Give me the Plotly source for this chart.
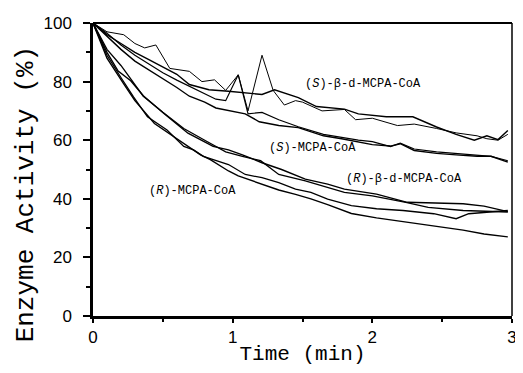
import plotly.graph_objects as go

# (S)-beta-d-MCPA-CoA
t_sbd_a = [0, 0.1, 0.22, 0.3, 0.37, 0.45, 0.55, 0.62, 0.69, 0.78, 0.87, 0.95, 1.04, 1.11, 1.21, 1.29, 1.37, 1.45, 1.5, 1.64, 1.8, 1.88, 2.0, 2.18, 2.3, 2.46, 2.6, 2.75, 2.82, 2.9, 2.97]
v_sbd_a = [100, 97, 96, 93, 91.5, 92.5, 84.5, 84, 83.5, 80, 80.6, 77, 82.3, 70, 89, 77, 72, 73.5, 73, 70, 70.5, 67, 67.5, 65, 65.5, 64, 62.5, 61.5, 60.5, 60, 62]
t_sbd_b = [0, 0.1, 0.2, 0.3, 0.4, 0.5, 0.6, 0.69, 0.83, 0.97, 1.13, 1.21, 1.3, 1.47, 1.6, 1.7, 1.8, 1.9, 2.0, 2.1, 2.18, 2.29, 2.46, 2.6, 2.73, 2.82, 2.9, 2.97]
v_sbd_b = [100, 96, 93, 90, 87.5, 85, 82.5, 79, 77.2, 76.7, 75.8, 75.6, 77.2, 74.5, 71.5, 71, 70.6, 69, 68.5, 68, 68, 68, 64.5, 62, 60, 61.5, 60.2, 63.3]

# (S)-MCPA-CoA
t_s_a = [0, 0.1, 0.2, 0.3, 0.4, 0.5, 0.6, 0.69, 0.8, 0.88, 0.95, 1.04, 1.11, 1.21, 1.33, 1.47, 1.65, 1.78, 1.9, 2.0, 2.13, 2.2, 2.3, 2.46, 2.6, 2.75, 2.85, 2.97]
v_s_a = [100, 96.5, 92.5, 89, 86, 83, 80.5, 78.5, 76, 74, 73.5, 82.3, 69, 69.5, 67, 64.6, 62, 61, 60, 59.5, 57.8, 59, 57, 56, 55.5, 55, 54.5, 53]
t_s_b = [0, 0.1, 0.2, 0.3, 0.4, 0.5, 0.6, 0.69, 0.8, 0.88, 1.0, 1.09, 1.19, 1.33, 1.47, 1.65, 1.78, 1.9, 2.0, 2.13, 2.2, 2.3, 2.46, 2.6, 2.75, 2.85, 2.97]
v_s_b = [100, 95.5, 91, 87, 84, 81, 78, 75, 73, 71, 70, 69, 66.3, 65, 64.3, 61.5, 60.5, 59.5, 58.5, 58, 58.8, 56.5, 55.5, 55, 54.5, 54.5, 52.5]

# (R)-beta-d-MCPA-CoA
t_rbd_a = [0, 0.1, 0.18, 0.27, 0.36, 0.51, 0.68, 0.77, 0.86, 0.97, 1.07, 1.21, 1.35, 1.52, 1.68, 1.8, 2.03, 2.25, 2.45, 2.65, 2.8, 2.97]
v_rbd_a = [100, 90, 83.6, 80.3, 75.2, 69, 62.4, 60.1, 57.9, 56.7, 55, 52.3, 50, 46.7, 45, 43.3, 41.6, 38.8, 38.5, 38.3, 37.5, 35.6]
t_rbd_b = [0, 0.1, 0.2, 0.3, 0.36, 0.5, 0.65, 0.8, 0.95, 1.07, 1.2, 1.33, 1.52, 1.8, 2.0, 2.24, 2.4, 2.65, 2.8, 2.97]
v_rbd_b = [100, 91, 85.5, 79, 75, 69.5, 64, 60, 56, 54.5, 53, 48.3, 46.1, 42.2, 41, 38.8, 37.1, 36, 35.8, 35.5]

# (R)-MCPA-CoA
t_r_a = [0, 0.1, 0.2, 0.29, 0.39, 0.53, 0.65, 0.72, 0.79, 0.86, 0.97, 1.09, 1.21, 1.33, 1.45, 1.56, 1.68, 1.85, 2.03, 2.22, 2.44, 2.6, 2.69, 2.97]
v_r_a = [100, 89, 81.4, 74.8, 68, 63.5, 57.9, 56.7, 54.5, 53.4, 51.7, 48.3, 47.2, 45.5, 43.3, 42.2, 39.9, 37.7, 36.6, 36, 34.9, 33.2, 34.9, 36]
t_r_b = [0, 0.1, 0.22, 0.3, 0.44, 0.58, 0.68, 0.77, 0.84, 0.97, 1.04, 1.21, 1.33, 1.45, 1.56, 1.68, 1.85, 2.03, 2.25, 2.45, 2.65, 2.8, 2.97]
v_r_b = [100, 88, 79.2, 73.5, 65.7, 61.2, 57.9, 55, 53.4, 49.5, 47.8, 45, 43, 41.5, 40, 38, 35, 33.5, 32, 30.5, 29.3, 28, 27]

labels = ["(<i>S</i>)-β-d-MCPA-CoA", "(<i>S</i>)-MCPA-CoA", "(<i>R</i>)-β-d-MCPA-CoA", "(<i>R</i>)-MCPA-CoA"]
label_x = [1.93, 1.57, 2.23, 0.71]
label_y = [79.2, 57.5, 46.7, 42.8]

x_ticks = [0, 1, 2, 3]
y_ticks = [0, 20, 40, 60, 80, 100]

series = [
    (t_sbd_a, v_sbd_a, 1.0), (t_sbd_b, v_sbd_b, 1.4),
    (t_s_a, v_s_a, 1.2), (t_s_b, v_s_b, 1.4),
    (t_rbd_a, v_rbd_a, 1.4), (t_rbd_b, v_rbd_b, 1.3),
    (t_r_a, v_r_a, 1.3), (t_r_b, v_r_b, 1.4),
]

fig = go.Figure()
for t, v, w in series:
    fig.add_trace(go.Scatter(x=t, y=v, mode="lines", line=dict(color="black", width=w),
                             showlegend=False, hoverinfo="skip"))

for txt, lx, ly in zip(labels, label_x, label_y):
    fig.add_annotation(x=lx, y=ly, text=txt, showarrow=False,
                       font=dict(family="Liberation Mono, Courier New, monospace", size=12, color="black"))

titlefont = "Liberation Mono, Courier New, monospace"

# y-axis title (sits a bit below the plot-area centre in the reference)
fig.add_annotation(xref="paper", yref="paper", x=-0.16, y=0.415, text="Enzyme Activity (%)",
                   textangle=-90, showarrow=False, xanchor="center", yanchor="middle",
                   font=dict(family=titlefont, size=26, color="black"))

# top and right frame
fig.add_shape(type="line", xref="paper", yref="paper", x0=0, x1=1, y0=1, y1=1,
              line=dict(color="black", width=2))
fig.add_shape(type="line", xref="paper", yref="paper", x0=1, x1=1, y0=0, y1=1,
              line=dict(color="black", width=1.5))

tickfont = dict(family="Liberation Sans, Arial, sans-serif", size=17, color="black")

fig.update_xaxes(range=[0, 3], tickvals=x_ticks, ticktext=[str(v) for v in x_ticks],
                 showline=True, linecolor="black", linewidth=2.5, showgrid=False, zeroline=False,
                 ticks="outside", ticklen=4, tickwidth=2, tickcolor="black",
                 minor=dict(dtick=0.5, ticks="outside", ticklen=3, tickwidth=1.5, tickcolor="black"),
                 tickfont=tickfont, ticklabelstandoff=0,
                 title=dict(text="Time (min)", font=dict(family=titlefont, size=21, color="black"), standoff=0))
fig.update_yaxes(range=[0, 100], tickvals=y_ticks, ticktext=[str(v) for v in y_ticks],
                 showline=True, linecolor="black", linewidth=2.5, showgrid=False, zeroline=False,
                 ticks="outside", ticklen=7, tickwidth=2, tickcolor="black",
                 minor=dict(dtick=10, ticks="outside", ticklen=4, tickwidth=1.5, tickcolor="black"),
                 tickfont=tickfont, ticklabelstandoff=8)

# page body has an 8px margin: size the figure so the plot area lands where the reference has it
fig.update_layout(width=515, height=365, margin=dict(l=85, r=6, t=10, b=57),
                  plot_bgcolor="white", paper_bgcolor="white")

fig.write_html("out.html")
